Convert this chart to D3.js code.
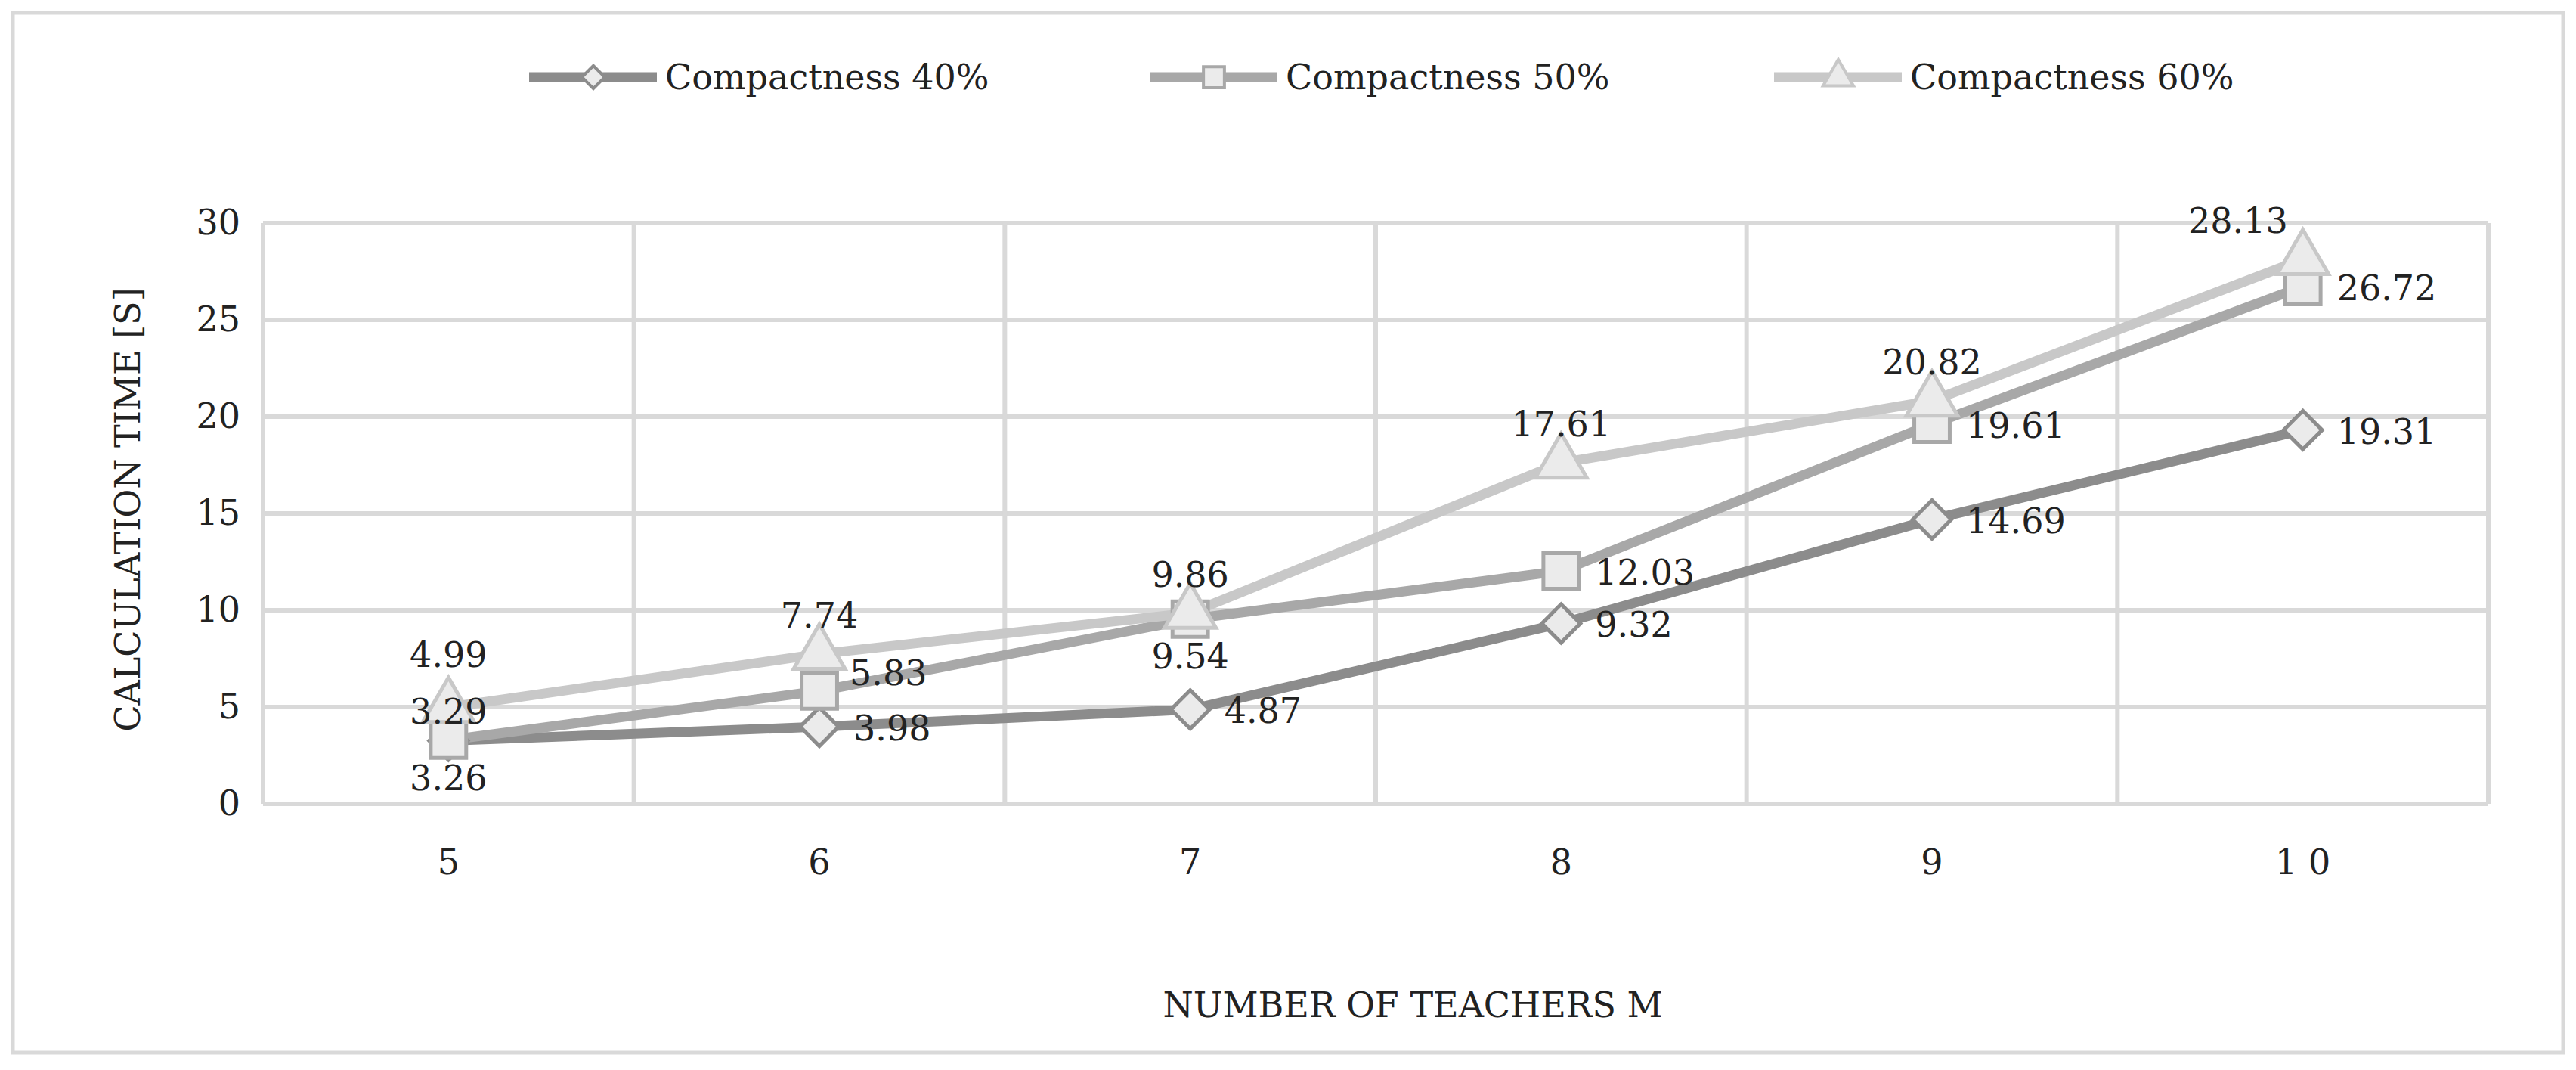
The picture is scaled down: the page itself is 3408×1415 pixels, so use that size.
<!DOCTYPE html>
<html><head><meta charset="utf-8">
<script src="https://cdn.jsdelivr.net/npm/d3@7"></script>
<style>body{margin:0;background:#fff}text{font-family:"DejaVu Serif",serif;fill:#222}</style>
</head><body><div id="chart"></div>
<script>
const categories = ['5','6','7','8','9','1 0'];
const seriesNames = ['Compactness 40%','Compactness 50%','Compactness 60%'];
const compact40 = [3.26,3.98,4.87,9.32,14.69,19.31];
const compact50 = [3.29,5.83,9.54,12.03,19.61,26.72];
const compact60 = [4.99,7.74,9.86,17.61,20.82,28.13];
const yTicks = [0,5,10,15,20,25,30];
// label placement per point: r = right, a = above, b = below, al = above-left
const place40 = ['b','r','r','r','r','r'];
const place50 = ['a2','ra','b','r','r','r'];
const place60 = ['a','a','a','a','a','al'];

const W = 3408, H = 1415;
const margin = {t:295,r:116,b:352,l:348};
const width = W - margin.l - margin.r, height = H - margin.t - margin.b;
const colors = ['#8c8c8c','#a8a8a8','#c8c8c8'];
const shapes = [d3.symbolSquare, d3.symbolSquare, d3.symbolTriangle];
const rot = [45, 0, 0];
const sizes = [1300, 2200, 2000];

const svg = d3.select('#chart').append('svg').attr('width',W).attr('height',H);
svg.append('rect').attr('x',17).attr('y',17).attr('width',W-34).attr('height',H-40)
   .attr('fill','#fff').attr('stroke','#d9d9d9').attr('stroke-width',5);

const g = svg.append('g').attr('transform',`translate(${margin.l},${margin.t})`);
const x = d3.scaleBand().domain(categories).range([0,width]);
const y = d3.scaleLinear().domain([0,30]).range([height,0]);

//grid
g.append('g').selectAll('line.h').data(yTicks).join('line')
  .attr('x1',0).attr('x2',width).attr('y1',d=>y(d)).attr('y2',d=>y(d))
  .attr('stroke','#d9d9d9').attr('stroke-width',6);
g.append('g').selectAll('line.v').data(d3.range(categories.length+1)).join('line')
  .attr('x1',i=>i*x.bandwidth()).attr('x2',i=>i*x.bandwidth()).attr('y1',0).attr('y2',height)
  .attr('stroke','#d9d9d9').attr('stroke-width',6);

//axes
g.append('g').call(d3.axisLeft(y).tickValues(yTicks).tickSize(0).tickPadding(30))
  .call(a=>a.select('.domain').remove())
  .call(a=>a.selectAll('text').attr('font-size',46).attr('font-family','DejaVu Serif').attr('fill','#222'));
g.append('g').attr('transform',`translate(0,${height})`)
  .call(d3.axisBottom(x).tickSize(0).tickPadding(60))
  .call(a=>a.select('.domain').remove())
  .call(a=>a.selectAll('text').attr('font-size',46).attr('font-family','DejaVu Serif').attr('fill','#222'));

svg.append('text').attr('transform','translate(185,674) rotate(-90)').attr('text-anchor','middle')
   .attr('font-size',46).text('CALCULATION TIME [S]');
svg.append('text').attr('x',1869).attr('y',1345).attr('text-anchor','middle')
   .attr('font-size',46).text('NUMBER OF TEACHERS M');

const cx = i => x(categories[i]) + x.bandwidth()/2;
const all = [[compact40,place40],[compact50,place50],[compact60,place60]];
const line = d3.line().x((d,i)=>cx(i)).y(d=>y(d));

all.forEach(([vals],s)=>{
  g.append('path').datum(vals).attr('d',line).attr('fill','none')
   .attr('stroke',colors[s]).attr('stroke-width',13).attr('stroke-linejoin','round');
});
all.forEach(([vals],s)=>{
  g.append('g').selectAll('path').data(vals).join('path')
   .attr('transform',(d,i)=>`translate(${cx(i)},${y(d)}) rotate(${rot[s]})`)
   .attr('d',d3.symbol(shapes[s],sizes[s]))
   .attr('fill','#ebebeb').attr('stroke',colors[s]).attr('stroke-width',5);
});
const off = {r:[45,18,'start'], ra:[40,-8,'start'], a:[0,-35,'middle'], a2:[0,-22,'middle'], b:[0,65,'middle'], al:[-20,-35,'end']};
all.forEach(([vals,pl])=>{
  g.append('g').selectAll('text').data(vals).join('text')
   .attr('x',(d,i)=>cx(i)+off[pl[i]][0]).attr('y',(d,i)=>y(d)+off[pl[i]][1] - (pl[i]==='a' && i===0 ? 18 : 0))
   .attr('text-anchor',(d,i)=>off[pl[i]][2]).attr('font-size',46)
   .text(d=>d.toFixed(2));
});

//legend
const legX = [700,1521,2347];
seriesNames.forEach((n,s)=>{
  const lg = svg.append('g').attr('transform',`translate(${legX[s]},102)`);
  lg.append('line').attr('x1',0).attr('x2',169).attr('stroke',colors[s]).attr('stroke-width',13);
  lg.append('path').attr('transform',`translate(85,0) rotate(${rot[s]})`).attr('d',d3.symbol(shapes[s],sizes[s]*0.35))
    .attr('fill','#ebebeb').attr('stroke',colors[s]).attr('stroke-width',4);
  lg.append('text').attr('x',180).attr('y',16).attr('font-size',46).text(n);
});
</script></body></html>
